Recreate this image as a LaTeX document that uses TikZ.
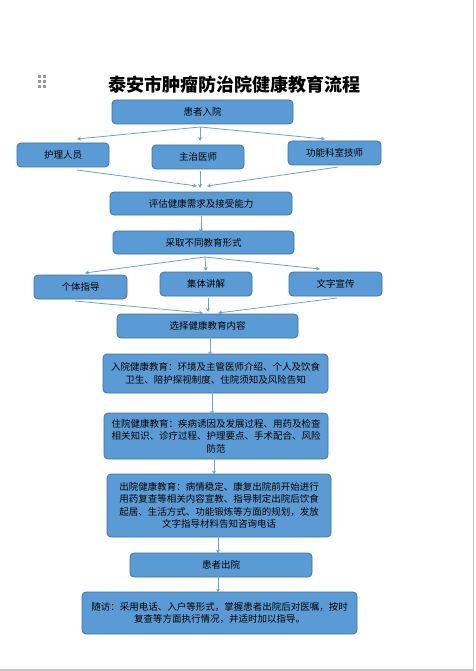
\documentclass[tikz,border=0pt]{standalone}
\usepackage{fontspec}
\setmainfont{Noto Sans CJK SC}
\usetikzlibrary{arrows.meta}
\definecolor{boxfill}{HTML}{5B9BD5}
\definecolor{boxline}{HTML}{41719C}
\definecolor{arrowc}{HTML}{6F9FD6}
\definecolor{pageline}{HTML}{C4C4C4}
\tikzset{
  stepbox/.style={draw=boxline, fill=boxfill, line width=0.8pt, rounded corners=4pt,
    inner sep=0pt, align=center, font=\fontsize{9.5}{12.5}\selectfont, text=black},
  flow/.style={draw=arrowc, line width=0.8pt, -{Stealth[length=4pt,width=4pt]}},
}
\newcommand{\bx}[6]{\node[stepbox, minimum width=#4pt, minimum height=#5pt] (#1) at (#2,#3) {#6};}
\begin{document}
\begin{tikzpicture}[x=1pt,y=-1pt]
\useasboundingbox (0,0) rectangle (475,671);
\fill[white] (0,0) rectangle (475,671);
\draw[pageline, line width=1.5pt] (473.5,0) -- (473.5,670) -- (0,670);
% drag handle
\foreach \yy in {76.5,81.5,86.5}{
  \foreach \xx in {39.5,44.5}{
    \fill[gray!80] (\xx-1.1,\yy-1.1) rectangle (\xx+1.1,\yy+1.1);
  }
}
\node[font=\bfseries\fontsize{18}{20}\selectfont, inner sep=0pt] (title) at (234.5,85) {泰安市肿瘤防治院健康教育流程};
\bx{n1}{202.5}{112}{181}{24}{患者入院}
\bx{n2a}{63}{155}{92}{24}{护理人员}
\bx{n2b}{198}{157}{92}{24}{主治医师}
\node[stepbox, minimum width=93pt, minimum height=24pt] (n2c) at (334.5,153) {\raisebox{2pt}{功能科室技师}};
\bx{n3}{201}{203.5}{182}{23}{评估健康需求及接受能力}
\bx{n4}{203.5}{242.5}{181}{23}{采取不同教育形式}
\bx{n5a}{80.5}{287}{93}{24}{个体指导}
\bx{n5b}{206}{284}{92}{24}{集体讲解}
\bx{n5c}{335.5}{284}{93}{24}{文字宣传}
\bx{n6}{207.5}{326}{181}{24}{选择健康教育内容}
\bx{n7}{215.5}{373.5}{225}{39}{入院健康教育：环境及主管医师介绍、个人及饮食\\卫生、陪护探视制度、住院须知及风险告知}
\bx{n8}{216}{436}{224}{46}{住院健康教育：疾病诱因及发展过程、用药及检查\\相关知识、诊疗过程、护理要点、手术配合、风险\\防范}
\bx{n9}{219}{505.5}{224}{63}{出院健康教育：病情稳定、康复出院前开始进行\\用药复查等相关内容宣教、指导制定出院后饮食\\起居、生活方式、功能锻炼等方面的规划，发放\\文字指导材料告知咨询电话}
\bx{n10}{221}{565}{182}{24}{患者出院}
\bx{n11}{219.5}{613}{275}{42}{随访：采用电话、入户等形式，掌握患者出院后对医嘱，按时\\复查等方面执行情况，并适时加以指导。}
% coordinates for arrow ends
\coordinate (s1) at (200,127);
\coordinate (e2a) at (77,139);
\coordinate (e2b) at (200,141);
\coordinate (e2c) at (325,139);
\coordinate (s2a) at (77,170);
\coordinate (s2b) at (200,171);
\coordinate (s2c) at (338,167);
\coordinate (e3a) at (197,186);
\coordinate (e3b) at (200,188);
\coordinate (e3c) at (207,186);
\coordinate (s4) at (205,257);
\coordinate (e5a) at (85,273);
\coordinate (e5b) at (206,271);
\coordinate (e5c) at (320,269);
\coordinate (s5a) at (75,301);
\coordinate (s5b) at (208,297.5);
\coordinate (s5c) at (337,298);
\coordinate (e6a) at (203,313);
\coordinate (e6b) at (208,312);
\coordinate (e6c) at (218,313);
\draw[flow] (s1) -- (e2a);
\draw[flow] (s1) -- (e2b);
\draw[flow] (s1) -- (e2c);
\draw[flow] (s2a) -- (e3a);
\draw[flow] (s2b) -- (e3b);
\draw[flow] (s2c) -- (e3c);
\draw[flow] (n3.south -| 201,0) ++(0,1) -- ([yshift=-2pt]n4.north -| 201,0);
\draw[flow] (s4) -- (e5a);
\draw[flow] (s4) -- (e5b);
\draw[flow] (s4) -- (e5c);
\draw[flow] (s5a) -- (e6a);
\draw[flow] (s5b) -- (e6b);
\draw[flow] (s5c) -- (e6c);
\draw[flow] ([yshift=1pt]n6.south -| 210,0) -- ([yshift=-2pt]n7.north -| 210,0);
\draw[flow] ([yshift=4pt]n7.south -| 212,0) -- ([yshift=-2pt]n8.north -| 212,0);
\draw[flow] ([yshift=2pt]n8.south -| 214,0) -- ([yshift=-1pt]n9.north -| 214,0);
\draw[flow] ([yshift=1pt]n9.south -| 218,0) -- ([yshift=-1pt]n10.north -| 218,0);
\draw[flow] ([yshift=1pt]n10.south -| 218,0) -- ([yshift=-1pt]n11.north -| 218,0);
\end{tikzpicture}
\end{document}
